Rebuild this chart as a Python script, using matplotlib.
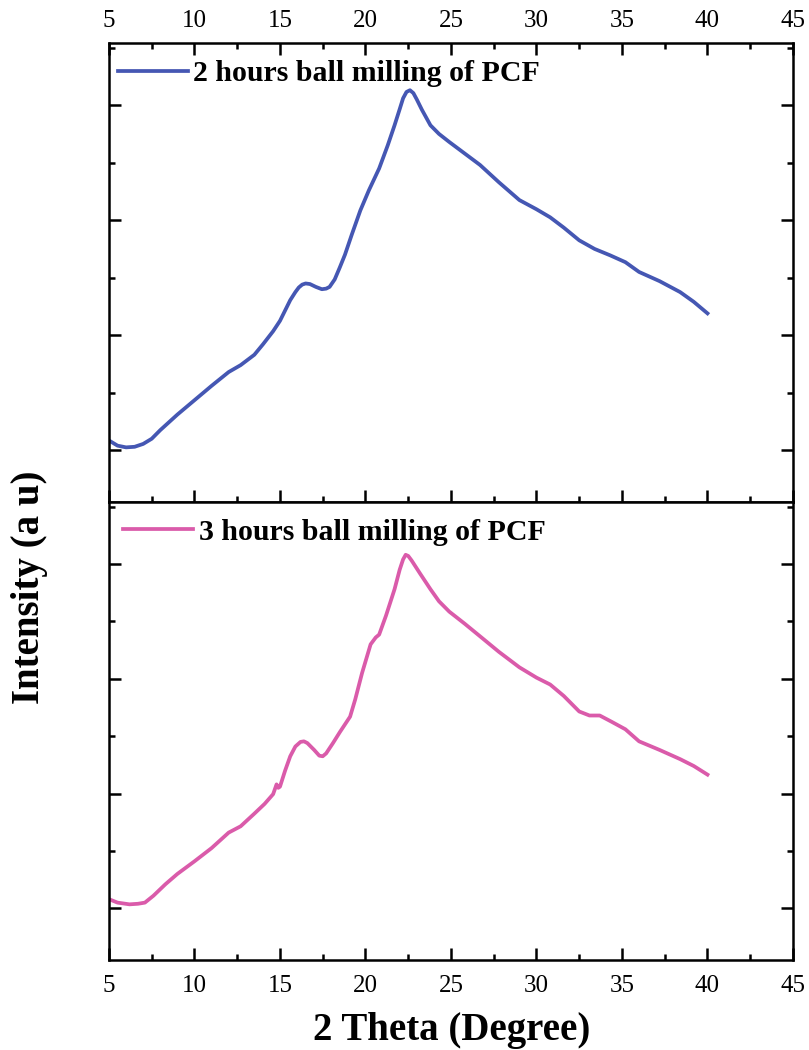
"""XRD patterns of PCF after 2 h and 3 h of ball milling, stacked panels."""

import matplotlib.pyplot as plt
from matplotlib.ticker import MultipleLocator, NullFormatter

# 2 theta (degree) / intensity (a.u.) read along each pattern
theta_2h = [5.0, 5.5, 6.0, 6.5, 7.0, 7.5, 8.0, 9.0, 10.0, 11.0, 12.0, 12.7, 13.5,
            14.0, 14.6, 15.0, 15.3, 15.6, 15.9, 16.1, 16.3, 16.5, 16.75, 17.1,
            17.45, 17.7, 17.9, 18.2, 18.5, 18.8, 19.2, 19.7, 20.2, 20.8, 21.3,
            21.7, 22.0, 22.2, 22.4, 22.6, 22.8, 23.0, 23.3, 23.8, 24.3, 24.9,
            25.8, 26.7, 27.8, 29.0, 30.0, 30.8, 31.6, 32.5, 33.4, 34.3, 35.2,
            36.0, 37.2, 38.4, 39.2, 40.0]
int_2h = [217, 208, 205, 206, 211, 220, 235, 262, 287, 312, 336, 348, 366,
          384, 407, 425, 443, 461, 475, 483, 488, 490, 489, 484,
          480, 481, 484, 497, 518, 540, 575, 617, 652, 690, 730,
          765, 793, 812, 823, 826, 821, 810, 792, 765, 750, 736,
          716, 696, 666, 635, 619, 605, 587, 565, 550, 539, 527,
          510, 494, 475, 458, 438]

theta_3h = [5.0, 5.5, 6.2, 6.7, 7.1, 7.6, 8.3, 9.0, 10.0, 11.0, 12.0, 12.7, 13.5,
            14.1, 14.6, 14.8, 14.9, 15.0, 15.3, 15.6, 15.9, 16.2, 16.4, 16.6,
            17.0, 17.3, 17.5, 17.7, 18.1, 18.5, 19.1, 19.4, 19.8, 20.3, 20.6,
            20.8, 21.2, 21.7, 22.0, 22.2, 22.35, 22.5, 22.7, 23.2, 23.8, 24.3,
            24.9, 25.8, 26.7, 27.8, 29.0, 30.0, 30.8, 31.6, 32.5, 33.1, 33.7,
            34.4, 35.2, 36.0, 37.2, 38.4, 39.2, 40.0]
int_3h = [216, 210, 207, 208, 210, 222, 242, 260, 282, 305, 332, 343, 365,
          382, 399, 416, 410, 412, 440, 465, 482, 490, 491, 488,
          476, 466, 465, 470, 488, 507, 534, 564, 610, 660, 672,
          677, 710, 756, 790, 808, 816, 814, 806, 783, 756, 735,
          717, 696, 674, 647, 620, 602, 590, 570, 543, 536, 536,
          525, 512, 491, 476, 460, 448, 433]

labels = ["2 hours ball milling of PCF", "3 hours ball milling of PCF"]
colors = ["#4557B3", "#DA5BAA"]

plt.rcParams["font.family"] = ["Liberation Serif", "DejaVu Serif"]

fig = plt.figure(figsize=(8.09, 10.5), dpi=100)
ax_top = fig.add_axes([0.1347, 0.5219, 0.8455, 0.4371])
ax_bot = fig.add_axes([0.1347, 0.0857, 0.8455, 0.4362], sharex=ax_top)

ax_top.plot(theta_2h, int_2h, color=colors[0], lw=2.7, label=labels[0])
ax_bot.plot(theta_3h, int_3h, color=colors[1], lw=2.7, label=labels[1])

for ax in (ax_top, ax_bot):
    ax.set_xlim(5, 45)
    ax.set_ylim(110, 908)
    ax.xaxis.set_major_locator(MultipleLocator(5))
    ax.xaxis.set_minor_locator(MultipleLocator(2.5))
    ax.yaxis.set_major_locator(MultipleLocator(200))
    ax.yaxis.set_minor_locator(MultipleLocator(100))
    ax.yaxis.set_major_formatter(NullFormatter())
    ax.tick_params(which="both", direction="in", width=1.8, left=True, right=True,
                   labelleft=False, labelsize=18)
    ax.tick_params(which="major", length=8.5)
    ax.tick_params(which="minor", length=4.5)
    for sp in ax.spines.values():
        sp.set_linewidth(1.8)

ax_top.tick_params(which="both", top=True, bottom=True, labeltop=True, labelbottom=False)
ax_top.tick_params(axis="x", pad=8)
ax_bot.tick_params(which="both", top=False, bottom=True, labeltop=False, labelbottom=True)
ax_bot.tick_params(axis="x", pad=11)

leg_font = {"weight": "bold", "size": 21.5}
ax_top.legend(loc="upper left", bbox_to_anchor=(0.013, 0.962), frameon=False, prop=leg_font,
              handlelength=2.34, handletextpad=0.17, borderpad=0, borderaxespad=0)
ax_bot.legend(loc="upper left", bbox_to_anchor=(0.020, 0.963), frameon=False, prop=leg_font,
              handlelength=2.34, handletextpad=0.23, borderpad=0, borderaxespad=0)

fig.text(0.5587, 0.019, "2 Theta (Degree)", ha="center", va="center",
         fontsize=28, fontweight="bold")
fig.text(0.037, 0.441, "Intensity (a u)", ha="center", va="center", rotation=90,
         fontsize=28, fontweight="bold")

fig.savefig("out.png", dpi=100)
